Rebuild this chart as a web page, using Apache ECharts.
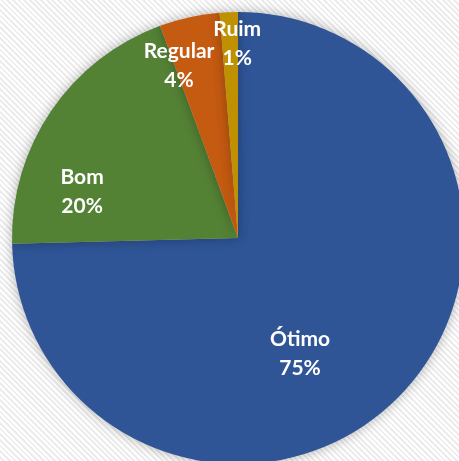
<!DOCTYPE html>
<html>
<head>
<meta charset="utf-8">
<script src="https://cdn.jsdelivr.net/npm/echarts@6/dist/echarts.min.js"></script>
<style>
html,body{margin:0;padding:0;}
body{width:459px;height:461px;overflow:hidden;
background: repeating-linear-gradient(45deg,#ffffff 0px,#ffffff 2px,#ececec 2px,#ececec 4px);}
#c{width:459px;height:461px;}
</style>
</head>
<body>
<div id="c"></div>
<script>
const categories = ["Ótimo", "Bom", "Regular", "Ruim"];
const values = [74.6, 19.8, 4.3, 1.3];
const colors = ["#2F5597", "#548235", "#C55A11", "#BF9000"];
const labelOffsets = [[-21, 35], [-60, 19], [-34, -59], [4, -78]];

const chart = echarts.init(document.getElementById('c'), null, {renderer: 'canvas'});
const data = categories.map((name, i) => ({
  name: name,
  value: values[i],
  itemStyle: {color: colors[i]},
  label: {offset: labelOffsets[i]}
}));
chart.setOption({
  backgroundColor: 'transparent',
  animation: false,
  series: [{
    type: 'pie',
    center: [238, 238],
    radius: 226,
    startAngle: 90,
    clockwise: true,
    percentPrecision: 0,
    avoidLabelOverlap: false,
    minShowLabelAngle: 0,
    labelLayout: {hideOverlap: false},
    itemStyle: {
      borderWidth: 0,
      shadowBlur: 12,
      shadowColor: 'rgba(0,0,0,0.3)'
    },
    label: {
      show: true,
      position: 'inside',
      formatter: '{b}\n{d}%',
      color: '#ffffff',
      fontFamily: 'Lato',
      fontWeight: 'bold',
      fontSize: 21,
      lineHeight: 29,
      align: 'center'
    },
    labelLine: {show: false},
    data: data
  }]
});
</script>
</body>
</html>
